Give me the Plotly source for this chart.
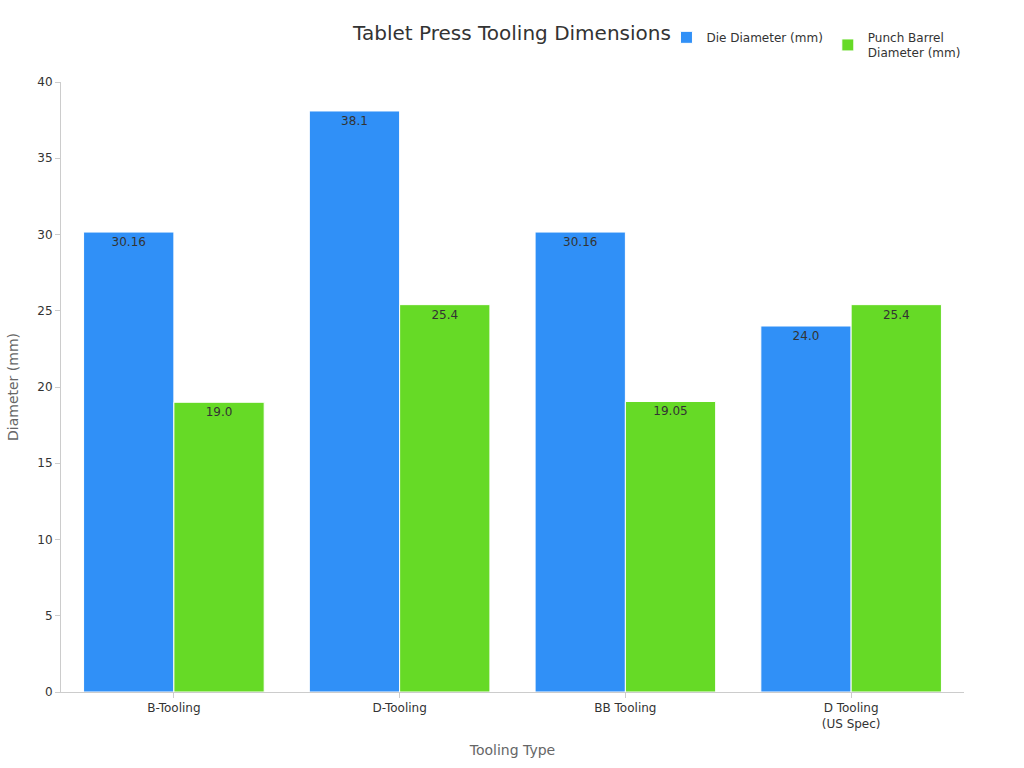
import plotly.graph_objects as go

categories = ["B-Tooling", "D-Tooling", "BB Tooling", "D Tooling<br>(US Spec)"]
die_diameter = [30.16, 38.1, 30.16, 24.0]
punch_barrel = [19.0, 25.4, 19.05, 25.4]
die_labels = ["30.16", "38.1", "30.16", "24.0"]
punch_labels = ["19.0", "25.4", "19.05", "25.4"]

fig = go.Figure()
fig.add_trace(go.Bar(
    x=categories, y=die_diameter, name="Die Diameter (mm)",
    marker=dict(color="#3090F7", line=dict(color="white", width=1)),
    text=die_labels, textposition="inside", insidetextanchor="end",
    textfont=dict(color="#333333", size=12),
))
fig.add_trace(go.Bar(
    x=categories, y=punch_barrel, name="Punch Barrel<br>Diameter (mm)",
    marker=dict(color="#66DA26", line=dict(color="white", width=1)),
    text=punch_labels, textposition="inside", insidetextanchor="end",
    textfont=dict(color="#333333", size=12),
))

fig.update_layout(
    width=1024, height=768,
    font=dict(family="DejaVu Sans", size=12, color="#333333"),
    paper_bgcolor="white", plot_bgcolor="white",
    margin=dict(l=61, r=60, t=82, b=76),
    barmode="group", bargap=0.2, bargroupgap=0,
    title=dict(text="Tablet Press Tooling Dimensions", x=0.5, xanchor="center",
               y=0.957, yanchor="middle", font=dict(size=20, color="#333333")),
    legend=dict(orientation="h", x=0.6705, y=1.097, xanchor="left", yanchor="top",
                font=dict(size=12, color="#333333"), bgcolor="rgba(0,0,0,0)"),
    uniformtext=dict(mode=False),
)
fig.update_xaxes(
    title=dict(text="Tooling Type", font=dict(size=14, color="#666666")),
    showline=True, linecolor="#cccccc", ticks="outside", ticklen=5, tickcolor="#cccccc",
    tickfont=dict(size=12, color="#333333"),
)
fig.update_yaxes(
    title=dict(text="Diameter (mm)", font=dict(size=14, color="#666666")),
    range=[0, 40], dtick=5, showgrid=False, zeroline=False,
    showline=True, linecolor="#cccccc", ticks="outside", ticklen=5, tickcolor="#cccccc",
    tickfont=dict(size=12, color="#333333"),
)

fig.write_html("out.html")
